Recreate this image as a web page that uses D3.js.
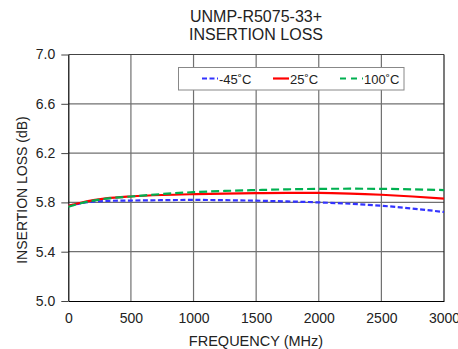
<!DOCTYPE html>
<html>
<head>
<meta charset="utf-8">
<script src="https://cdn.jsdelivr.net/npm/d3@7"></script>
<style>
  body { margin: 0; background: #fff; }
  text { font-family: "Liberation Sans", Arial, sans-serif; fill: #222; }
</style>
</head>
<body>
<svg id="chart" width="458" height="349"></svg>
<script>
'use strict';

// frequencies (MHz)
const freqs = [0, 100, 200, 300, 500, 750, 1000, 1250, 1500, 1750, 2000, 2250, 2500, 2750, 3000];
// insertion loss (dB) per temperature
const lossMinus45 = [5.772, 5.793, 5.806, 5.812, 5.815, 5.818, 5.820, 5.818, 5.814, 5.808, 5.800, 5.789, 5.773, 5.750, 5.722];
const loss25 = [5.772, 5.797, 5.818, 5.832, 5.848, 5.860, 5.867, 5.872, 5.875, 5.877, 5.877, 5.872, 5.862, 5.848, 5.830];
const loss100 = [5.765, 5.793, 5.815, 5.830, 5.848, 5.868, 5.883, 5.893, 5.900, 5.906, 5.910, 5.911, 5.910, 5.906, 5.900];

const xTicks = [0, 500, 1000, 1500, 2000, 2500, 3000];
const yTicks = [5.0, 5.4, 5.8, 6.2, 6.6, 7.0];

const series = [
    {name: "-45˚C", values: lossMinus45, color: "#3333ff", dash: "5,2.5"},
    {name: "25˚C", values: loss25, color: "#ff0000", dash: null},
    {name: "100˚C", values: loss100, color: "#00b050", dash: "8,4"}
];

const svg = d3.select("#chart");
const plotLeft = 68.3, plotRight = 444, plotTop = 54.5, plotBottom = 301;

const x = d3.scaleLinear().domain([0, 3000]).range([plotLeft, plotRight]);
const y = d3.scaleLinear().domain([5.0, 7.0]).range([plotBottom, plotTop]);

// title
svg.append("text").attr("x", 256).attr("y", 22).attr("text-anchor", "middle")
    .style("font-size", "16px").text("UNMP-R5075-33+");
svg.append("text").attr("x", 256).attr("y", 40).attr("text-anchor", "middle")
    .style("font-size", "16px").text("INSERTION LOSS");

// grid
svg.append("g").selectAll("line").data(xTicks.slice(1, -1)).join("line")
    .attr("x1", d => x(d)).attr("x2", d => x(d)).attr("y1", plotTop).attr("y2", plotBottom)
    .attr("stroke", "#707070").attr("stroke-width", 1.2);
svg.append("g").selectAll("line").data(yTicks.slice(1, -1)).join("line")
    .attr("x1", plotLeft).attr("x2", plotRight).attr("y1", d => y(d)).attr("y2", d => y(d))
    .attr("stroke", "#707070").attr("stroke-width", 1.2);

// axes
const xAxis = svg.append("g").attr("transform", "translate(0," + plotBottom + ")")
    .call(d3.axisBottom(x).tickValues(xTicks).tickSize(0).tickPadding(12).tickFormat(d3.format("d")));
const yAxis = svg.append("g").attr("transform", "translate(" + plotLeft + ",0)")
    .call(d3.axisLeft(y).tickValues(yTicks).tickSizeInner(7).tickSizeOuter(0).tickPadding(6).tickFormat(d3.format(".1f")));
[xAxis, yAxis].forEach(function (g) {
    g.select(".domain").attr("stroke", "#000").attr("stroke-width", 1.2);
    g.selectAll("text").style("font-size", "14px").attr("fill", "#222")
        .style("font-family", "'Liberation Sans', Arial, sans-serif");
});
yAxis.selectAll(".tick line").attr("stroke", "#444");

// top & right border
svg.append("line").attr("x1", plotLeft).attr("x2", plotRight).attr("y1", plotTop).attr("y2", plotTop)
    .attr("stroke", "#444").attr("stroke-width", 1.2);
svg.append("line").attr("x1", plotRight).attr("x2", plotRight).attr("y1", plotTop).attr("y2", plotBottom)
    .attr("stroke", "#222").attr("stroke-width", 1.2);

// axis titles
svg.append("text").attr("x", 256).attr("y", 346).attr("text-anchor", "middle")
    .style("font-size", "14.5px").text("FREQUENCY (MHz)");
svg.append("text").attr("transform", "translate(27,190) rotate(-90)").attr("text-anchor", "middle")
    .style("font-size", "14px").text("INSERTION LOSS (dB)");

// curves
const line = d3.line().x((d, i) => x(freqs[i])).y(d => y(d)).curve(d3.curveMonotoneX);
series.forEach(function (s) {
    svg.append("path").datum(s.values).attr("d", line)
        .attr("fill", "none").attr("stroke", s.color).attr("stroke-width", 2.2)
        .attr("stroke-dasharray", s.dash);
});

// legend
const legend = svg.append("g");
legend.append("rect").attr("x", 178.5).attr("y", 67.5).attr("width", 225.5).attr("height", 22.5)
    .attr("fill", "#fff").attr("stroke", "#888").attr("stroke-width", 1);
const legendX = [202, 273, 340];
series.forEach(function (s, i) {
    const len = i === 2 ? 23 : 16;
    legend.append("line").attr("x1", legendX[i]).attr("x2", legendX[i] + len)
        .attr("y1", 78.5).attr("y2", 78.5)
        .attr("stroke", s.color).attr("stroke-width", 2.2)
        .attr("stroke-dasharray", i === 2 ? "6,5" : s.dash);
    legend.append("text").attr("x", legendX[i] + len + 1).attr("y", 83.5)
        .style("font-size", "13px").text(s.name);
});
</script>
</body>
</html>
